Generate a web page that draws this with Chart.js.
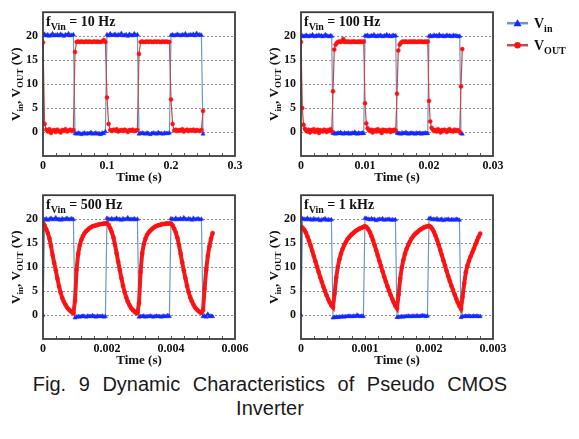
<!DOCTYPE html>
<html>
<head>
<meta charset="utf-8">
<script src="https://cdn.jsdelivr.net/npm/chart.js@4.4.1/dist/chart.umd.min.js"></script>
<style>
  html, body { margin: 0; padding: 0; background: #fff; }
  #wrap { position: relative; width: 579px; height: 439px; overflow: hidden; }
  canvas { position: absolute; }
  #caption { position: absolute; left: 0; top: 373px; width: 540px; text-align: center;
    font: 20px "Liberation Sans", Arial, sans-serif; line-height: 23.5px; word-spacing: 7px; color: #1a1a1a; }
</style>
</head>
<body>
<div id="wrap">
  <canvas id="p1" width="260" height="190" style="left:0;top:0"></canvas>
  <canvas id="p2" width="321" height="190" style="left:258px;top:0"></canvas>
  <canvas id="p3" width="260" height="190" style="left:0;top:183px"></canvas>
  <canvas id="p4" width="260" height="190" style="left:258px;top:183px"></canvas>
  <div id="caption">Fig. 9 Dynamic Characteristics of Pseudo CMOS<br>Inverter</div>
</div>
<script>
// scope sample spacing of each trace (s)
const dt10 = 0.0025, dt100 = 0.0002, dt500 = 0.00005, dt1k = 0.000025;

// 10 Hz
const vin10 = [20.2,20.4,20.1,20.3,20.0,20.2,20.5,20.1,20.2,20.3,20.1,20.4,20.2,20.0,20.3,20.2,20.5,20.1,20.2,20.3,
  -0.3,-0.4,-0.2,-0.3,-0.5,-0.3,-0.2,-0.4,-0.3,-0.3,-0.1,-0.4,-0.3,-0.2,-0.4,-0.3,-0.5,-0.2,-0.3,0.1,
  20.3,20.1,20.5,20.2,20.2,20.4,20.1,20.3,20.2,20.6,20.1,20.2,20.3,20.0,20.4,20.2,20.1,20.5,20.2,20.3,
  -0.4,-0.3,-0.2,-0.3,-0.4,-0.2,-0.3,-0.5,-0.3,-0.2,-0.3,-0.4,-0.1,-0.3,-0.3,-0.4,-0.2,-0.3,-0.3,-0.2,
  20.2,20.3,20.1,20.2,20.4,20.2,20.1,20.3,20.2,20.5,20.1,20.2,20.3,20.2,20.4,20.1,20.6,20.2,20.3,20.2,
  -0.4];
const vout10 = [18.7,1.7,0.5,0.1,0.6,-0.2,0.3,0.4,0.0,0.5,0.2,-0.1,0.4,0.3,0.6,0.1,0.3,0.5,0.2,0.4,
  16.7,18.8,18.9,18.8,18.9,18.8,18.8,18.9,18.8,18.9,18.8,18.8,18.9,18.8,18.9,18.8,18.8,18.9,19.2,18.8,
  7.2,1.7,0.4,0.2,0.5,0.3,0.6,0.1,0.3,0.4,0.2,0.5,0.3,0.0,0.4,0.3,0.5,0.2,0.3,0.4,
  16.3,18.8,18.9,18.8,18.8,18.9,18.8,18.9,18.8,18.8,18.9,18.8,18.9,18.8,18.8,18.9,18.8,18.9,18.8,18.8,
  6.8,1.7,0.3,0.5,0.2,0.4,0.3,0.6,0.1,0.3,0.5,0.2,0.4,0.3,0.5,0.2,0.4,0.3,0.2,0.4,
  4.4];

// 100 Hz
const vin100 = [20.0,20.1,19.9,20.0,20.2,20.0,19.9,20.1,20.0,20.3,20.0,19.9,20.1,20.0,20.2,20.0,20.1,19.9,20.0,20.3,20.1,20.0,19.9,20.1,20.0,
  -0.3,-0.2,-0.4,-0.3,-0.2,-0.3,-0.1,-0.3,-0.4,-0.2,-0.3,-0.3,-0.2,-0.4,-0.3,-0.2,-0.3,0.0,-0.3,-0.4,-0.2,-0.3,-0.3,-0.2,-0.3,
  20.1,20.0,20.2,19.9,20.0,20.1,20.0,20.3,20.0,19.9,20.1,20.0,20.2,20.0,19.9,20.1,20.0,20.3,20.0,20.1,19.9,20.0,20.2,20.0,20.1,
  -0.2,-0.3,-0.3,-0.4,-0.2,-0.3,-0.3,-0.1,-0.3,-0.4,-0.3,-0.2,-0.3,-0.3,-0.4,-0.2,-0.3,-0.3,-0.2,-0.4,-0.3,-0.3,-0.2,-0.3,-0.3,
  20.0,20.1,19.9,20.0,20.2,20.0,20.1,19.9,20.3,20.0,20.0,20.1,19.9,20.0,20.2,20.0,20.1,20.0,19.9,20.2,20.0,20.1,20.0,19.9,20.0,
  -0.3,-0.4];
const vout100 = [18.8,5.0,1.5,0.7,0.3,0.1,0.5,-0.1,0.4,0.2,0.6,0.0,0.3,0.5,-0.2,0.4,0.2,0.1,0.5,0.3,0.0,0.4,0.2,0.6,0.1,
  8.5,17.2,18.2,18.6,18.8,18.9,18.8,18.9,19.4,18.8,18.9,18.8,18.9,18.8,18.8,18.9,18.8,18.9,18.8,18.8,18.9,18.8,18.9,18.8,18.9,
  6.0,1.8,0.8,0.4,0.2,0.5,-0.1,0.3,0.4,0.1,0.6,0.2,0.3,-0.2,0.5,0.2,0.4,0.1,0.3,0.5,0.0,0.4,0.2,0.5,0.3,
  8.0,17.0,18.2,18.6,18.8,18.9,18.8,18.9,18.8,18.8,18.9,18.8,18.9,18.8,18.9,18.8,18.8,18.9,18.8,18.9,18.8,18.8,18.9,18.8,18.9,
  6.5,2.2,0.9,0.5,0.2,0.4,0.1,0.6,0.3,-0.1,0.4,0.2,0.5,0.3,0.0,0.4,0.6,0.2,0.3,0.1,0.5,0.2,0.4,0.3,0.0,
  9.5,17.3];

// 500 Hz
const vin500 = [0.0,
  19.9,20.1,19.8,20.0,20.2,19.9,20.0,20.3,19.9,20.0,19.8,20.1,19.9,20.0,20.2,19.9,20.0,20.1,19.9,
  -0.6,-0.4,-0.3,-0.4,-0.3,-0.2,-0.3,-0.4,-0.2,-0.3,-0.3,-0.1,-0.3,-0.4,-0.2,-0.3,-0.3,-0.2,-0.4,-0.3,
  20.2,20.0,19.9,20.1,19.9,20.0,20.2,19.9,20.0,19.8,20.1,19.9,20.0,20.3,19.9,20.0,19.9,20.1,19.9,20.0,
  -0.4,-0.3,-0.3,-0.2,-0.4,-0.3,-0.3,-0.2,-0.3,-0.4,-0.3,-0.2,-0.3,-0.3,-0.4,-0.2,-0.3,-0.3,-0.1,-0.3,
  20.1,20.0,19.9,20.2,19.9,20.0,20.1,19.9,20.3,20.0,19.9,20.1,20.0,19.8,20.2,19.9,20.0,20.1,19.9,20.0,
  -0.3,-0.2,-0.4,0.2,-0.3,-0.2,-0.3];
const vout500 = [19.2,18.7,17.9,17.1,16.0,14.4,12.5,10.9,9.3,7.6,6.0,4.7,3.6,2.8,2.2,1.6,1.2,0.9,0.6,0.4,
  3.0,9.5,12.8,14.6,15.7,16.5,17.1,17.5,17.8,18.1,18.3,18.5,18.6,18.7,18.8,18.9,19.0,19.0,19.1,19.1,
  19.2,18.8,18.1,17.3,16.2,14.7,12.9,11.1,9.4,7.7,6.1,4.8,3.7,2.8,2.1,1.5,1.1,0.8,0.5,0.4,
  2.5,9.0,12.9,14.8,15.9,16.7,17.2,17.6,17.9,18.2,18.4,18.6,18.7,18.8,18.9,19.0,19.0,19.1,19.1,19.1,
  19.1,18.7,18.0,17.2,16.1,14.6,12.8,11.0,9.3,7.7,6.1,4.8,3.7,2.9,2.2,1.6,1.2,0.9,0.6,0.5,
  1.0,5.5,9.5,12.3,14.3,15.9,17.1];

// 1 kHz
const vin1k = [0.0,
  20.1,20.0,19.9,20.2,19.9,20.0,19.8,20.1,19.9,19.9,20.0,19.7,19.9,19.9,20.1,19.8,19.9,19.8,19.9,
  -0.6,-0.5,-0.4,-0.5,-0.4,-0.4,-0.3,-0.4,-0.3,-0.3,-0.2,-0.3,-0.3,-0.2,-0.3,0.0,-0.2,-0.3,-0.2,-0.3,
  20.2,20.1,20.0,19.9,20.1,19.9,20.0,19.7,19.9,20.0,19.9,20.1,19.8,19.9,19.9,20.0,19.8,19.9,19.8,19.9,
  -0.5,-0.4,-0.4,-0.3,-0.4,-0.3,-0.3,-0.2,-0.3,-0.3,-0.2,-0.3,-0.2,-0.2,-0.3,-0.2,-0.1,-0.2,-0.3,-0.2,
  20.1,20.2,19.9,20.0,19.9,20.1,19.8,19.9,20.0,19.7,19.9,19.9,20.0,19.8,19.9,19.9,19.8,20.0,19.9,19.8,
  -0.5,-0.3,-0.3,-0.2,-0.3,-0.2,-0.3,-0.3,-0.2,-0.3,-0.2,-0.3,-0.3];
const vout1k = [18.4,18.2,17.8,17.2,16.4,15.5,14.5,13.4,12.3,11.2,10.1,9.0,7.9,6.9,5.9,5.0,4.1,3.3,2.6,2.0,
  1.6,4.5,7.8,10.0,11.6,12.8,13.8,14.6,15.2,15.8,16.2,16.6,16.9,17.2,17.5,17.7,17.9,18.1,18.2,18.4,
  18.5,18.3,17.9,17.3,16.5,15.6,14.6,13.5,12.4,11.3,10.2,9.1,8.0,7.0,6.0,5.1,4.2,3.4,2.6,1.9,
  1.4,4.3,7.6,9.9,11.5,12.8,13.8,14.6,15.3,15.9,16.4,16.8,17.1,17.4,17.7,17.9,18.1,18.3,18.4,18.5,
  18.6,18.4,18.0,17.4,16.6,15.7,14.7,13.6,12.5,11.4,10.3,9.2,8.1,7.1,6.1,5.2,4.3,3.4,2.6,1.9,
  1.3,3.8,6.6,8.9,10.3,11.3,12.2,13.0,13.8,14.7,15.5,16.3,17.0];

const yTicks = [0, 5, 10, 15, 20];
const xTicks10 = [0, 0.1, 0.2, 0.3],         xLabels10 = ['0', '0.1', '0.2', '0.3'];
const xTicks100 = [0, 0.01, 0.02, 0.03],     xLabels100 = ['0', '0.01', '0.02', '0.03'];
const xTicks500 = [0, 0.002, 0.004, 0.006],  xLabels500 = ['0', '0.002', '0.004', '0.006'];
const xTicks1k = [0, 0.001, 0.002, 0.003],   xLabels1k = ['0', '0.001', '0.002', '0.003'];

const serif = '"Liberation Serif", "Times New Roman", serif';
const vinLine = '#6d95c9', vinDot = '#1428ff', voutLine = '#bf4c4a', voutDot = '#ff1010';

// text with subscripts: parts = [[text, isSub], ...]
function rich(ctx, parts, x, y, size, sub) {
  let cx = x;
  for (const [t, s] of parts) {
    ctx.font = 'bold ' + (s ? sub : size) + 'px ' + serif;
    ctx.fillText(t, cx, s ? y + size * 0.3 : y);
    cx += ctx.measureText(t).width;
  }
  return cx - x;
}
function richWidth(ctx, parts, size, sub) {
  let w = 0;
  for (const [t, s] of parts) {
    ctx.font = 'bold ' + (s ? sub : size) + 'px ' + serif;
    w += ctx.measureText(t).width;
  }
  return w;
}

const deco = {
  id: 'deco',
  afterDraw(chart, args, o) {
    const ctx = chart.ctx, a = chart.chartArea;
    ctx.save();
    // little inward ticks on the bottom edge
    ctx.strokeStyle = '#555';
    ctx.lineWidth = 1;
    for (let k = 1; k < 15; k++) {
      const px = Math.round(a.left + (a.right - a.left) * k / 15) + 0.5;
      ctx.beginPath(); ctx.moveTo(px, a.bottom); ctx.lineTo(px, a.bottom - 3); ctx.stroke();
    }
    ctx.strokeStyle = '#3c3c3c';
    ctx.lineWidth = 1.8;
    ctx.strokeRect(a.left, a.top, a.right - a.left, a.bottom - a.top);

    ctx.fillStyle = '#111';
    ctx.textAlign = 'left';
    ctx.textBaseline = 'alphabetic';
    rich(ctx, [['f', 0], ['Vin', 1], [' = ' + o.freq, 0]], a.left + 3, a.top + 14, 14, 10);

    ctx.save();
    ctx.translate(a.left - 28, (a.top + a.bottom) / 2);
    ctx.rotate(-Math.PI / 2);
    const yt = [['V', 0], ['in', 1], [', V', 0], ['OUT', 1], [' (V)', 0]];
    rich(ctx, yt, -richWidth(ctx, yt, 13, 9) / 2, 4.5, 13, 9);
    ctx.restore();

    ctx.font = 'bold 13px ' + serif;
    ctx.textAlign = 'center';
    ctx.textBaseline = 'middle';
    ctx.fillText('Time (s)', (a.left + a.right) / 2, a.bottom + 22);

    if (o.legend) {
      const rows = [[vinLine, vinDot, 'tri', [['V', 0], ['in', 1]]],
                    [voutLine, voutDot, 'dot', [['V', 0], ['OUT', 1]]]];
      rows.forEach(([lc, dc, shape, txt], i) => {
        const y = a.top + 11 + i * 22, x0 = a.right + 14;
        ctx.strokeStyle = lc; ctx.lineWidth = 2.5;
        ctx.beginPath(); ctx.moveTo(x0, y); ctx.lineTo(x0 + 21, y); ctx.stroke();
        ctx.fillStyle = dc;
        ctx.beginPath();
        if (shape === 'tri') {
          ctx.moveTo(x0 + 10.5, y - 4); ctx.lineTo(x0 + 14.5, y + 3); ctx.lineTo(x0 + 6.5, y + 3);
        } else {
          ctx.arc(x0 + 10.5, y, 3.2, 0, Math.PI * 2);
        }
        ctx.fill();
        ctx.fillStyle = '#111';
        ctx.textAlign = 'left';
        ctx.textBaseline = 'alphabetic';
        rich(ctx, txt, x0 + 27, y + 4.5, 14, 10);
      });
    }
    ctx.restore();
  }
};

// band = the Vout trace is so densely sampled in the original that it reads as a thick red band
function panel(id, vin, vout, dt, xTicks, xLabels, freq, legend, band) {
  const cv = document.getElementById(id);
  const toXY = arr => arr.map((v, i) => ({ x: i * dt, y: v }));
  const tickFont = { family: serif, size: 12, weight: 'bold' };
  return new Chart(cv, {
    type: 'line',
    data: {
      datasets: [
        { label: 'VOUT', data: toXY(vout), borderColor: band ? '#ee1c1c' : voutLine,
          borderWidth: band ? 4 : 1.2,
          pointStyle: 'circle', pointRadius: 2, pointBackgroundColor: voutDot,
          pointBorderColor: voutDot, pointBorderWidth: 0.5 },
        { label: 'Vin', data: toXY(vin), borderColor: vinLine, borderWidth: 1.2,
          pointStyle: 'triangle', pointRadius: 2.4, pointBackgroundColor: vinDot,
          pointBorderColor: vinDot, pointBorderWidth: 0.5 }
      ]
    },
    options: {
      responsive: false,
      animation: false,
      devicePixelRatio: 1,
      layout: { padding: { left: 0, top: 10, right: cv.width - 43 - 192, bottom: 6 } },
      scales: {
        x: {
          type: 'linear', min: xTicks[0], max: xTicks[xTicks.length - 1],
          afterBuildTicks: s => { s.ticks = xTicks.map(v => ({ value: v })); },
          afterFit: s => { s.height = 28; },
          grid: { display: false, drawTicks: false },
          border: { display: false },
          ticks: { autoSkip: false, maxRotation: 0, padding: 3, color: '#111', font: tickFont,
                   callback: (v, i) => xLabels[i] }
        },
        y: {
          min: -5, max: 25,
          afterBuildTicks: s => { s.ticks = yTicks.map(v => ({ value: v })); },
          afterFit: s => { s.width = 43; },
          grid: { color: '#8a8a8a', lineWidth: 1, drawTicks: false },
          border: { display: false, dash: [2, 2] },
          ticks: { padding: 5, color: '#111', font: tickFont, callback: v => String(v) }
        }
      },
      plugins: {
        legend: { display: false },
        tooltip: { enabled: false },
        deco: { freq: freq, legend: legend }
      }
    },
    plugins: [deco]
  });
}

panel('p1', vin10, vout10, dt10, xTicks10, xLabels10, '10 Hz', false, false);
panel('p2', vin100, vout100, dt100, xTicks100, xLabels100, '100 Hz', true, false);
panel('p3', vin500, vout500, dt500, xTicks500, xLabels500, '500 Hz', false, true);
panel('p4', vin1k, vout1k, dt1k, xTicks1k, xLabels1k, '1 kHz', false, true);
</script>
</body>
</html>
